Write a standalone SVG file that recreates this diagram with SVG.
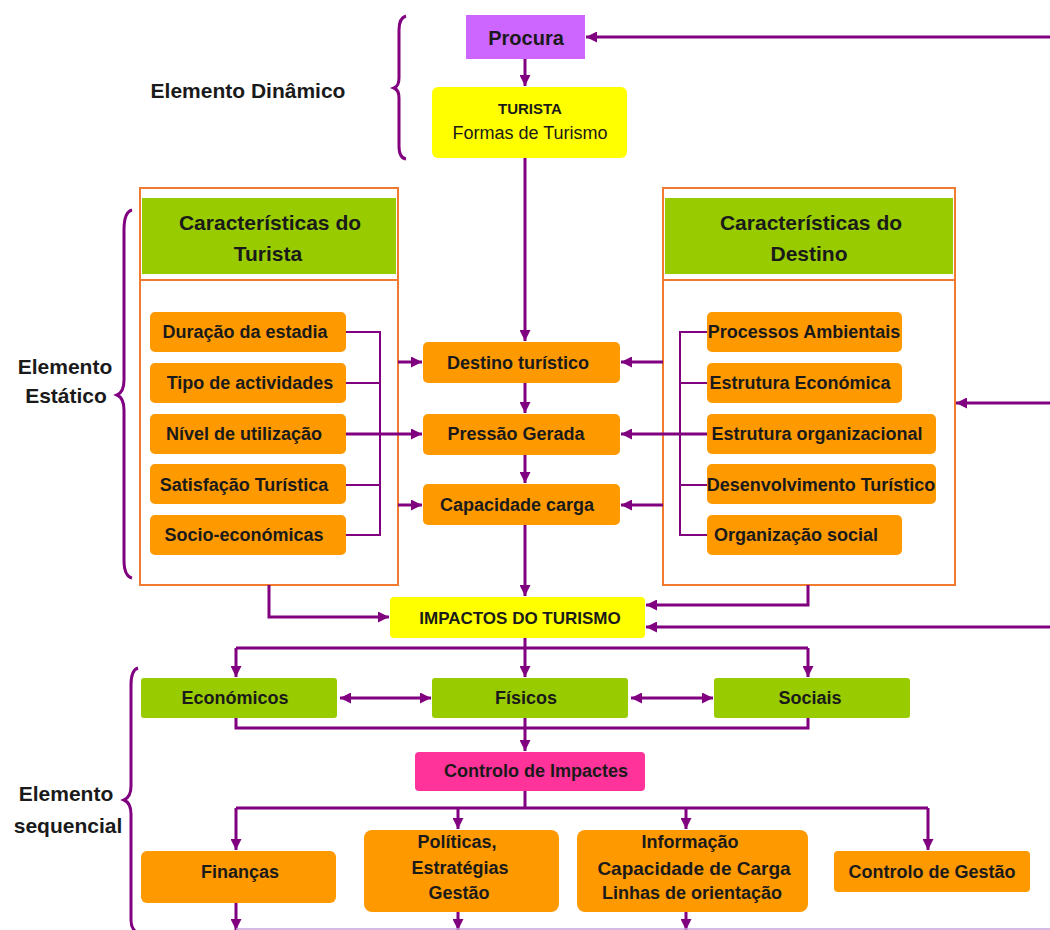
<svg xmlns="http://www.w3.org/2000/svg" width="1050" height="930" viewBox="0 0 1050 930">
<defs>
<marker id="ah" viewBox="0 0 10 10" refX="10" refY="5" markerWidth="11" markerHeight="11" markerUnits="userSpaceOnUse" orient="auto-start-reverse"><path d="M0,0 L10,5 L0,10 z" fill="#800080"/></marker>
</defs>
<style>
text{font-family:"Liberation Sans",Arial,sans-serif;font-weight:bold;fill:#1a1a1a;text-anchor:middle;dominant-baseline:central}
.or{fill:#ff9900}
.gr{fill:#99cc00}
.c{fill:none;stroke:#800080;stroke-width:3}
.t{fill:none;stroke:#800080;stroke-width:2}
.a{marker-end:url(#ah)}
.box{fill:#fff;stroke:#f07a30;stroke-width:2}
.br{fill:none;stroke:#800080;stroke-width:3}
.lab{font-size:21px}
.it{font-size:18px}
.hd{font-size:21px}
</style>
<rect width="1050" height="930" fill="#fff"/>

<g id="labels">
<text class="lab" x="248" y="90">Elemento Dinâmico</text>
<text class="lab" x="65" y="366">Elemento</text>
<text class="lab" x="66" y="395">Estático</text>
<text class="lab" x="66" y="793">Elemento</text>
<text class="lab" x="68" y="825">sequencial</text>
</g>

<g id="braces">
<path class="br" d="M406,16 Q399,18 399,30 L399,78 Q399,86 394,88 Q399,90 399,98 L399,146 Q399,158 406,159"/>
<path class="br" d="M132,210 Q124,212 124,230 L124,380 Q124,392 117,395 Q124,398 124,410 L124,560 Q124,576 132,578"/>
<path class="br" d="M138,668 Q131,670 131,685 L131,786 Q131,797 124,800 Q131,803 131,814 L131,920 Q131,928 136,932"/>
</g>

<g id="procura">
<rect x="466" y="15" width="119" height="44" fill="#cc66ff"/>
<text x="526" y="38" style="font-size:20px">Procura</text>
</g>

<g id="turista">
<rect x="432" y="87" width="195" height="71" rx="6" fill="#ffff00"/>
<text x="530" y="108" style="font-size:15px">TURISTA</text>
<text x="530" y="133" style="font-size:18px;font-weight:normal">Formas de Turismo</text>
</g>

<g id="carac-turista">
<rect class="box" x="140" y="188" width="258" height="397"/>
<rect class="gr" x="142" y="198" width="254" height="76"/>
<line x1="140" y1="280" x2="398" y2="280" stroke="#f07a30" stroke-width="2"/>
<text class="hd" x="270" y="222">Características do</text>
<text class="hd" x="268" y="253">Turista</text>
</g>

<g id="carac-destino">
<rect class="box" x="663" y="188" width="292" height="397"/>
<rect class="gr" x="665" y="198" width="288" height="76"/>
<line x1="663" y1="280" x2="955" y2="280" stroke="#f07a30" stroke-width="2"/>
<text class="hd" x="811" y="222">Características do</text>
<text class="hd" x="809" y="253">Destino</text>
</g>

<g id="t-duracao"><rect class="or" x="150" y="312" width="196" height="40" rx="5"/><text class="it" x="245" y="332">Duração da estadia</text></g>
<g id="t-tipo"><rect class="or" x="150" y="363" width="196" height="40" rx="5"/><text class="it" x="250" y="383">Tipo de actividades</text></g>
<g id="t-nivel"><rect class="or" x="150" y="414" width="196" height="40" rx="5"/><text class="it" x="244" y="434">Nível de utilização</text></g>
<g id="t-satisf"><rect class="or" x="150" y="464" width="196" height="40" rx="5"/><text class="it" x="244" y="485">Satisfação Turística</text></g>
<g id="t-socio"><rect class="or" x="150" y="515" width="196" height="40" rx="5"/><text class="it" x="244" y="535">Socio-económicas</text></g>

<g id="d-proc"><rect class="or" x="707" y="312" width="195" height="40" rx="5"/><text class="it" x="804" y="332">Processos Ambientais</text></g>
<g id="d-econ"><rect class="or" x="707" y="363" width="195" height="40" rx="5"/><text class="it" x="800" y="383">Estrutura Económica</text></g>
<g id="d-org"><rect class="or" x="707" y="414" width="229" height="40" rx="5"/><text class="it" x="817" y="434">Estrutura organizacional</text></g>
<g id="d-desenv"><rect class="or" x="707" y="464" width="229" height="40" rx="5"/><text class="it" x="821" y="485">Desenvolvimento Turístico</text></g>
<g id="d-social"><rect class="or" x="707" y="515" width="195" height="40" rx="5"/><text class="it" x="796" y="535">Organização social</text></g>

<g id="destino"><rect class="or" x="423" y="342" width="197" height="41" rx="5"/><text class="it" x="518" y="363">Destino turístico</text></g>
<g id="pressao"><rect class="or" x="423" y="414" width="197" height="41" rx="5"/><text class="it" x="516" y="434">Pressão Gerada</text></g>
<g id="capacidade"><rect class="or" x="423" y="484" width="197" height="41" rx="5"/><text class="it" x="517" y="505">Capacidade carga</text></g>

<g id="impactos"><rect x="390" y="597" width="255" height="41" rx="4" fill="#ffff00"/><text x="520" y="618" style="font-size:17px">IMPACTOS DO TURISMO</text></g>

<g id="economicos"><rect class="gr" x="141" y="678" width="196" height="40" rx="3"/><text class="it" x="235" y="698">Económicos</text></g>
<g id="fisicos"><rect class="gr" x="432" y="678" width="196" height="40" rx="3"/><text class="it" x="526" y="698">Físicos</text></g>
<g id="sociais"><rect class="gr" x="714" y="678" width="196" height="40" rx="3"/><text class="it" x="810" y="698">Sociais</text></g>

<g id="controlo-impactes"><rect x="415" y="752" width="230" height="39" rx="4" fill="#ff3399"/><text class="it" x="536" y="771">Controlo de Impactes</text></g>

<g id="financas"><rect class="or" x="141" y="851" width="195" height="52" rx="6"/><text class="it" x="240" y="872">Finanças</text></g>
<g id="politicas"><rect class="or" x="364" y="830" width="195" height="82" rx="8"/><text class="it" x="457" y="842">Políticas,</text><text class="it" x="460" y="868">Estratégias</text><text class="it" x="459" y="893">Gestão</text></g>
<g id="informacao"><rect class="or" x="577" y="830" width="231" height="82" rx="8"/><text class="it" x="690" y="842">Informação</text><text class="it" x="694" y="868" style="font-size:19px">Capacidade de Carga</text><text class="it" x="692" y="893">Linhas de orientação</text></g>
<g id="controlo-gestao"><rect class="or" x="834" y="851" width="196" height="41" rx="4"/><text class="it" x="932" y="872">Controlo de Gestão</text></g>

<g id="connectors">
<line class="c a" x1="1050" y1="37" x2="586" y2="37"/>
<line class="c a" x1="525" y1="59" x2="525" y2="86"/>
<line class="c a" x1="525" y1="158" x2="525" y2="341"/>
<line class="c a" x1="525" y1="383" x2="525" y2="413"/>
<line class="c a" x1="525" y1="455" x2="525" y2="483"/>
<line class="c a" x1="525" y1="525" x2="525" y2="596"/>

<path class="t" d="M346,332 H380 V535 H346 M346,383 H380 M346,485 H380"/>
<line class="c a" x1="346" y1="434" x2="422" y2="434"/>
<line class="c a" x1="398" y1="362" x2="422" y2="362"/>
<line class="c a" x1="398" y1="505" x2="422" y2="505"/>

<path class="t" d="M707,332 H680 V535 H707 M707,383 H680 M707,485 H680"/>
<line class="c a" x1="707" y1="434" x2="621" y2="434"/>
<line class="c a" x1="663" y1="362" x2="621" y2="362"/>
<line class="c a" x1="663" y1="505" x2="621" y2="505"/>

<line class="c a" x1="1050" y1="403" x2="956" y2="403"/>

<path class="c a" d="M269,585 V617 H389"/>
<path class="c a" d="M808,585 V605 H646"/>
<line class="c a" x1="1050" y1="627" x2="646" y2="627"/>

<path class="c" d="M236,648 H808"/>
<line class="c a" x1="525" y1="638" x2="525" y2="677"/>
<path class="c a" d="M236,648 V677"/>
<path class="c a" d="M808,648 V677"/>
<line class="c a" x1="340" y1="698" x2="431" y2="698" style="marker-start:url(#ah)"/>
<line class="c a" x1="631" y1="698" x2="713" y2="698" style="marker-start:url(#ah)"/>
<path class="c" d="M236,718 V728 H808 V718"/>
<line class="c a" x1="525" y1="718" x2="525" y2="751"/>

<line class="c" x1="525" y1="791" x2="525" y2="808"/>
<path class="c" d="M236,808 H928"/>
<path class="c a" d="M236,808 V850"/>
<path class="c a" d="M458,808 V829"/>
<path class="c a" d="M686,808 V829"/>
<path class="c a" d="M928,808 V850"/>
<line class="c a" x1="236" y1="903" x2="236" y2="930"/>
<line class="c a" x1="458" y1="912" x2="458" y2="930"/>
<line class="c a" x1="686" y1="912" x2="686" y2="930"/>
<line x1="236" y1="929" x2="1050" y2="929" stroke="#c9a3d9" stroke-width="1.5"/>
</g>
</svg>
